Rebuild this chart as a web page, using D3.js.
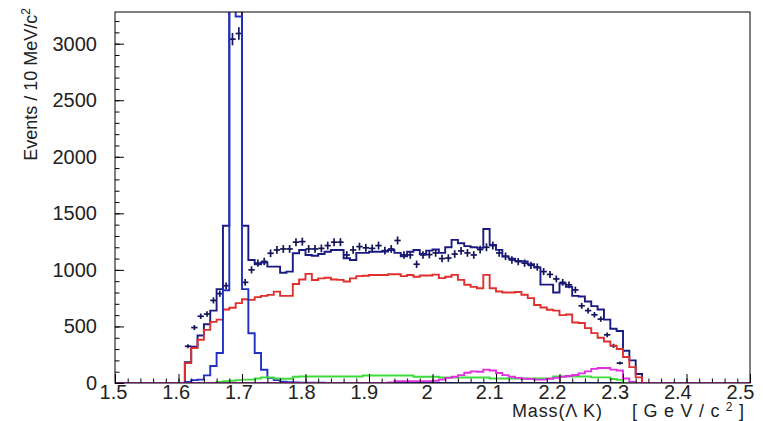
<!DOCTYPE html>
<html>
<head>
<meta charset="utf-8">
<script src="https://cdn.jsdelivr.net/npm/d3@7"></script>
<style>
  body { margin: 0; background: #fff; }
  svg { display: block; font-family: "Liberation Sans", Arial, Helvetica, sans-serif; }
  .axis text { font-size: 20px; fill: #222; }
  .axis line { stroke: #000; stroke-width: 1; }
  .title { font-size: 18px; fill: #222; }
</style>
</head>
<body>
<div id="chart"></div>
<script>
// 10 MeV bins, the first one starts at 1.60 GeV (everything below is empty)
var binLow = 1.60;
var binWidth = 0.01;

// data (crosses)
var dataCounts = [
  0, 325, 490, 590, 610, 730, 790, 860, 3040, 3090,
  890, 1000, 1060, 1075, 1147, 1176, 1185, 1185, 1245, 1250,
  1185, 1185, 1190, 1215, 1245, 1245, 1132, 1176, 1206, 1195,
  1190, 1215, 1170, 1185, 1260, 1132, 1132, 1050, 1132, 1135,
  1150, 1100, 1105, 1140, 1168, 1150, 1132, 1180, 1200, 1215,
  1150, 1120, 1088, 1073, 1060, 1040, 1025, 985, 960, 920,
  890, 868, 823, 682, 640, 603, 565, 426, 329, 176,
  0, 0, 0, 0, 0
];
// total MC (navy)
var totalMC = [
  0, 185, 320, 420, 520, 640, 830, 1390, 4500, 3800,
  1390, 1088, 1050, 1065, 1029, 1029, 975, 985, 1147, 1176,
  1132, 1125, 1140, 1160, 1176, 1176, 1103, 1088, 1150, 1150,
  1160, 1160, 1162, 1176, 1150, 1120, 1160, 1176, 1140, 1170,
  1180, 1150, 1200, 1265, 1235, 1210, 1200, 1195, 1362, 1221,
  1177, 1118, 1100, 1080, 1075, 1050, 1020, 870, 870, 800,
  880, 850, 770, 765, 720, 680, 650, 560, 480, 460,
  285, 200, 80, 0, 0
];
// non-resonant component (red)
var nonRes = [
  0, 176, 309, 382, 470, 540, 560, 650, 665, 706,
  741, 735, 759, 770, 779, 808, 770, 770, 875, 915,
  965, 910, 925, 930, 915, 912, 897, 925, 945, 948,
  955, 955, 955, 962, 962, 945, 955, 940, 950, 950,
  958, 927, 940, 956, 912, 868, 850, 838, 956, 838,
  809, 800, 800, 805, 780, 750, 690, 668, 647, 640,
  600, 605, 535, 530, 485, 441, 400, 367, 330, 300,
  230, 140, 50, 0, 0
];
// narrow peak component (blue)
var peakComp = [
  0, 10, 25, 30, 67, 150, 265, 820, 4200, 3240,
  830, 440, 265, 117, 45, 25, 12, 8, 5, 3,
  2, 2, 2, 1, 1, 1, 1, 1, 0, 0,
  0, 0, 0, 0, 0, 0, 0, 0, 0, 0,
  0, 0, 0, 0, 0, 0, 0, 0, 0, 0,
  0, 0, 0, 0, 0, 0, 0, 0, 0, 0,
  0, 0, 0, 0, 0, 0, 0, 0, 0, 0,
  0, 0, 0, 0, 0
];
// green component
var greenComp = [
  0, 0, 0, 0, 0, 0, 10, 15, 20, 25,
  30, 30, 40, 50, 50, 40, 38, 38, 55, 58,
  58, 58, 58, 58, 58, 58, 58, 58, 58, 66,
  66, 66, 66, 66, 66, 66, 66, 55, 55, 55,
  55, 48, 48, 48, 48, 48, 48, 48, 48, 40,
  40, 40, 40, 40, 40, 40, 40, 40, 40, 58,
  58, 58, 58, 58, 58, 50, 50, 50, 35, 28,
  0, 0, 0, 0, 0
];
// magenta component
var magentaComp = [
  0, 0, 0, 0, 0, 0, 0, 0, 0, 0,
  0, 0, 0, 0, 0, 0, 0, 0, 0, 0,
  0, 0, 0, 0, 0, 0, 0, 0, 0, 0,
  0, 0, 0, 5, 15, 15, 15, 15, 15, 15,
  20, 30, 45, 55, 70, 90, 103, 100, 118, 110,
  88, 70, 55, 45, 38, 35, 30, 30, 38, 45,
  55, 62, 71, 85, 103, 125, 132, 132, 118, 110,
  40, 10, 0, 0, 0
];

var xTicks = [1.5, 1.6, 1.7, 1.8, 1.9, 2.0, 2.1, 2.2, 2.3, 2.4, 2.5];
var xTickLabels = ["1.5", "1.6", "1.7", "1.8", "1.9", "2", "2.1", "2.2", "2.3", "2.4", "2.5"];
var yTicks = [0, 500, 1000, 1500, 2000, 2500, 3000];
var yTickLabels = ["0", "500", "1000", "1500", "2000", "2500", "3000"];

var W = 763, H = 421;
var frame = {left: 115, right: 750, top: 12, bottom: 383};

var x = d3.scaleLinear().domain([1.5, 2.5]).range([frame.left, frame.right]);
var y = d3.scaleLinear().domain([0, 3280]).range([frame.bottom, frame.top]);

var svg = d3.select("#chart").append("svg").attr("width", W).attr("height", H);
svg.append("rect").attr("width", W).attr("height", H).attr("fill", "#fff");

svg.append("clipPath").attr("id", "frameClip")
  .append("rect")
  .attr("x", frame.left).attr("y", frame.top)
  .attr("width", frame.right - frame.left).attr("height", frame.bottom - frame.top);

var plot = svg.append("g").attr("clip-path", "url(#frameClip)");

// histogram outline, flat at zero over the whole axis
var histPoints = function(values) {
  var pts = [[1.5, 0], [binLow, 0]];
  values.forEach(function(v, i) {
    var lo = binLow + i * binWidth;
    pts.push([lo, v]);
    pts.push([lo + binWidth, v]);
  });
  pts.push([binLow + values.length * binWidth, 0]);
  pts.push([2.5, 0]);
  return pts;
};
var line = d3.line()
  .x(function(d) { return x(d[0]); })
  .y(function(d) { return y(d[1]); });

// data crosses
var pts = dataCounts.map(function(v, i) { return {lo: binLow + i * binWidth, v: v}; })
  .filter(function(d) { return d.v > 0; });
var cross = plot.append("g").attr("stroke", "#14145a").attr("stroke-width", 1.7);
cross.selectAll("line.h").data(pts).enter().append("line").attr("class", "h")
  .attr("x1", function(d) { return x(d.lo); })
  .attr("x2", function(d) { return x(d.lo + binWidth); })
  .attr("y1", function(d) { return y(d.v); })
  .attr("y2", function(d) { return y(d.v); });
cross.selectAll("line.v").data(pts).enter().append("line").attr("class", "v")
  .attr("x1", function(d) { return x(d.lo + binWidth / 2); })
  .attr("x2", function(d) { return x(d.lo + binWidth / 2); })
  .attr("y1", function(d) { return y(d.v - Math.sqrt(d.v)); })
  .attr("y2", function(d) { return y(d.v + Math.sqrt(d.v)); });

var series = [
  {vals: totalMC, color: "#1a1a80"},
  {vals: nonRes, color: "#e0302e"},
  {vals: peakComp, color: "#2030c0"},
  {vals: greenComp, color: "#3cdc3c"},
  {vals: magentaComp, color: "#e030e0"}
];
plot.selectAll("path.hist").data(series).enter().append("path")
  .attr("class", "hist")
  .attr("fill", "none")
  .attr("stroke", function(d) { return d.color; })
  .attr("stroke-width", 1.9)
  .attr("stroke-linejoin", "miter")
  .attr("d", function(d) { return line(histPoints(d.vals)); });

// axes, ticks pointing inward
var xAxis = svg.append("g").attr("class", "axis").attr("transform", "translate(0," + frame.bottom + ")");
xAxis.call(d3.axisBottom(x).tickValues(xTicks).tickSize(-9).tickPadding(2)
  .tickFormat(function(d, i) { return xTickLabels[i]; }));
// the labels sit a little left of their ticks in the original
xAxis.selectAll(".tick text").attr("dx", function(d) { return -2 - (d - 1.5) * 8; });
xAxis.append("g").call(d3.axisBottom(x).tickValues(d3.range(1.5, 2.5001, 0.02)).tickSize(-4.5).tickFormat(""));
xAxis.selectAll(".domain").remove();

var yAxis = svg.append("g").attr("class", "axis").attr("transform", "translate(" + frame.left + ",0)");
yAxis.call(d3.axisLeft(y).tickValues(yTicks).tickSize(-9).tickPadding(18)
  .tickFormat(function(d, i) { return yTickLabels[i]; }));
yAxis.append("g").call(d3.axisLeft(y).tickValues(d3.range(0, 3280, 100)).tickSize(-4.5).tickFormat(""));
yAxis.selectAll(".domain").remove();
svg.selectAll(".axis text").attr("font-family", null).attr("font-size", null);

svg.append("rect")
  .attr("x", frame.left).attr("y", frame.top)
  .attr("width", frame.right - frame.left).attr("height", frame.bottom - frame.top)
  .attr("fill", "none").attr("stroke", "#000").attr("stroke-width", 1);

// axis titles
svg.append("text").attr("class", "title")
  .attr("x", 512).attr("y", 417).attr("font-size", 20)
  .attr("textLength", 90).attr("lengthAdjust", "spacing")
  .text("Mass(\u039B K)");
var unit = svg.append("text").attr("class", "title")
  .attr("x", 632).attr("y", 417).attr("font-size", 20)
  .attr("textLength", 112).attr("lengthAdjust", "spacing");
unit.append("tspan").text("[GeV/c");
unit.append("tspan").attr("font-size", 12).attr("dy", -6).text("2");
unit.append("tspan").attr("dy", 6).text("]");

var yt = svg.append("text").attr("class", "title")
  .attr("transform", "translate(37,8) rotate(-90)").attr("text-anchor", "end");
yt.append("tspan").text("Events / 10 MeV/c");
yt.append("tspan").attr("font-size", 12).attr("dy", -7).text("2");
</script>
</body>
</html>
